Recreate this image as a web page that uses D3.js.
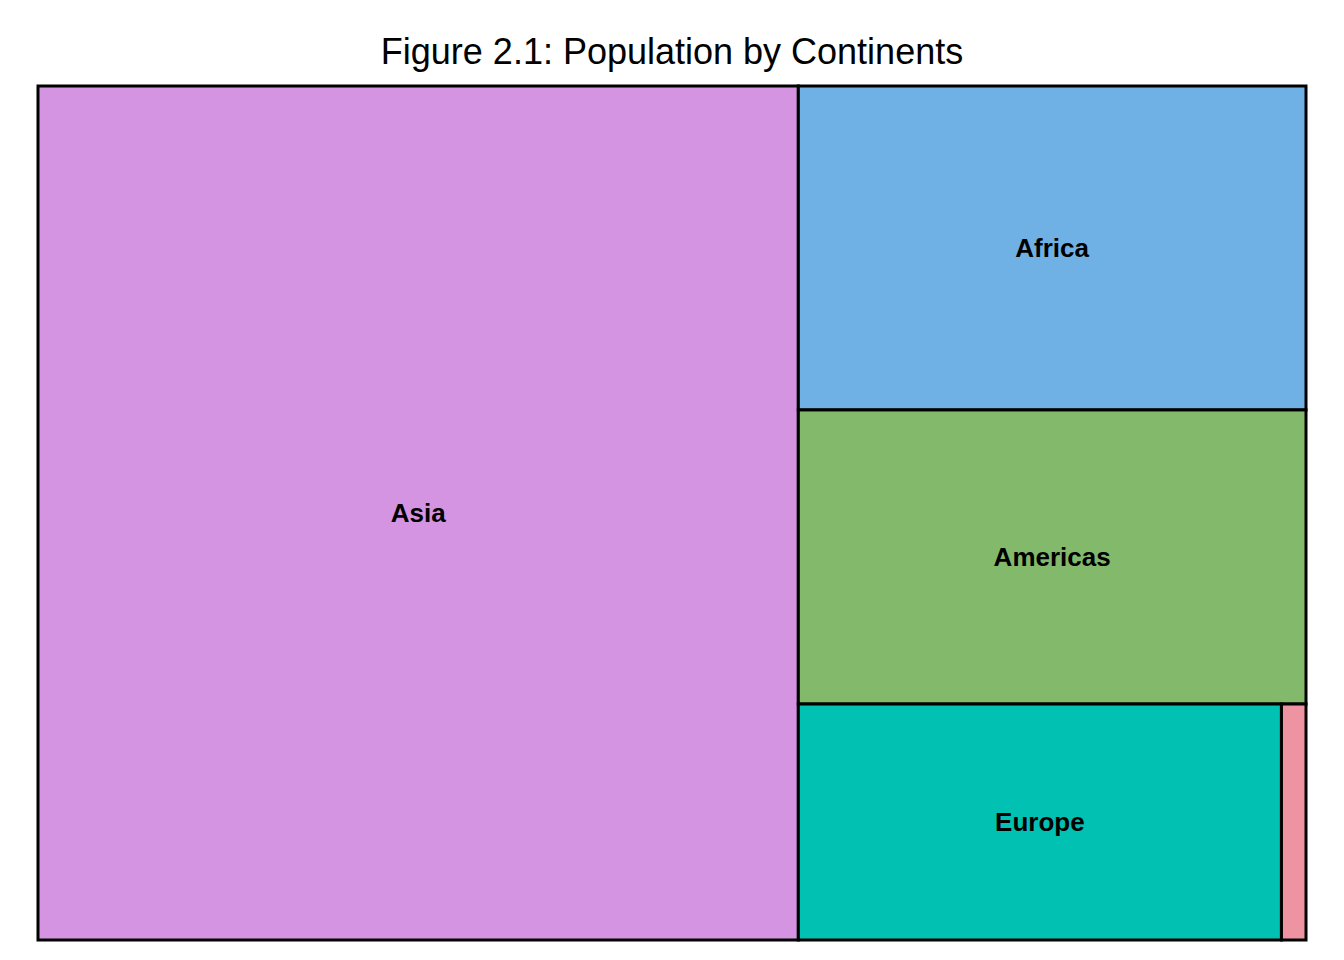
<!DOCTYPE html>
<meta charset="utf-8">
<script src="https://cdn.jsdelivr.net/npm/d3@7"></script>
<style>
  body { margin: 0; background: #fff; }
  text { font-family: "Liberation Sans", Arial, sans-serif; }
  .tile { stroke: #000; stroke-width: 3px; }
  .label { font-size: 26px; font-weight: bold; fill: #000; }
</style>
<body>
<script>
  // population share (billions, approx 2007)
  var continents = ['Asia', 'Africa', 'Americas', 'Europe', 'Oceania'];
  var population = [3.81, 0.965, 0.876, 0.669, 0.034];
  var colors = ['#D494E1', '#6FB1E4', '#83B96B', '#00C1B2', '#EE93A2'];

  var W = 1344, H = 960;
  var x0 = 38, y0 = 86, x1 = 1306, y1 = 940;

  var svg = d3.select('body').append('svg')
    .attr('width', W).attr('height', H);

  svg.append('text')
    .attr('x', W / 2).attr('y', 64)
    .attr('text-anchor', 'middle')
    .style('font-size', '36px')
    .text('Figure 2.1: Population by Continents');

  var root = d3.hierarchy({children: continents.map(function(c, i) {
      return {name: c, value: population[i], color: colors[i]};
    })})
    .sum(function(d) { return d.value || 0; })
    .sort(function(a, b) { return b.value - a.value; });

  d3.treemap()
    .tile(d3.treemapSquarify.ratio(1))
    .size([x1 - x0, y1 - y0])(root);

  var g = svg.append('g').attr('transform', 'translate(' + x0 + ',' + y0 + ')');

  var cells = g.selectAll('g.cell').data(root.leaves()).enter().append('g').attr('class', 'cell');

  cells.append('rect')
    .attr('class', 'tile')
    .attr('x', function(d) { return d.x0; })
    .attr('y', function(d) { return d.y0; })
    .attr('width', function(d) { return d.x1 - d.x0; })
    .attr('height', function(d) { return d.y1 - d.y0; })
    .attr('fill', function(d) { return d.data.color; });

  cells.filter(function(d) { return d.x1 - d.x0 > 100; })
    .append('text')
    .attr('class', 'label')
    .attr('x', function(d) { return (d.x0 + d.x1) / 2; })
    .attr('y', function(d) { return (d.y0 + d.y1) / 2; })
    .attr('dy', '0.35em')
    .attr('text-anchor', 'middle')
    .text(function(d) { return d.data.name; });
</script>
</body>
</html>
